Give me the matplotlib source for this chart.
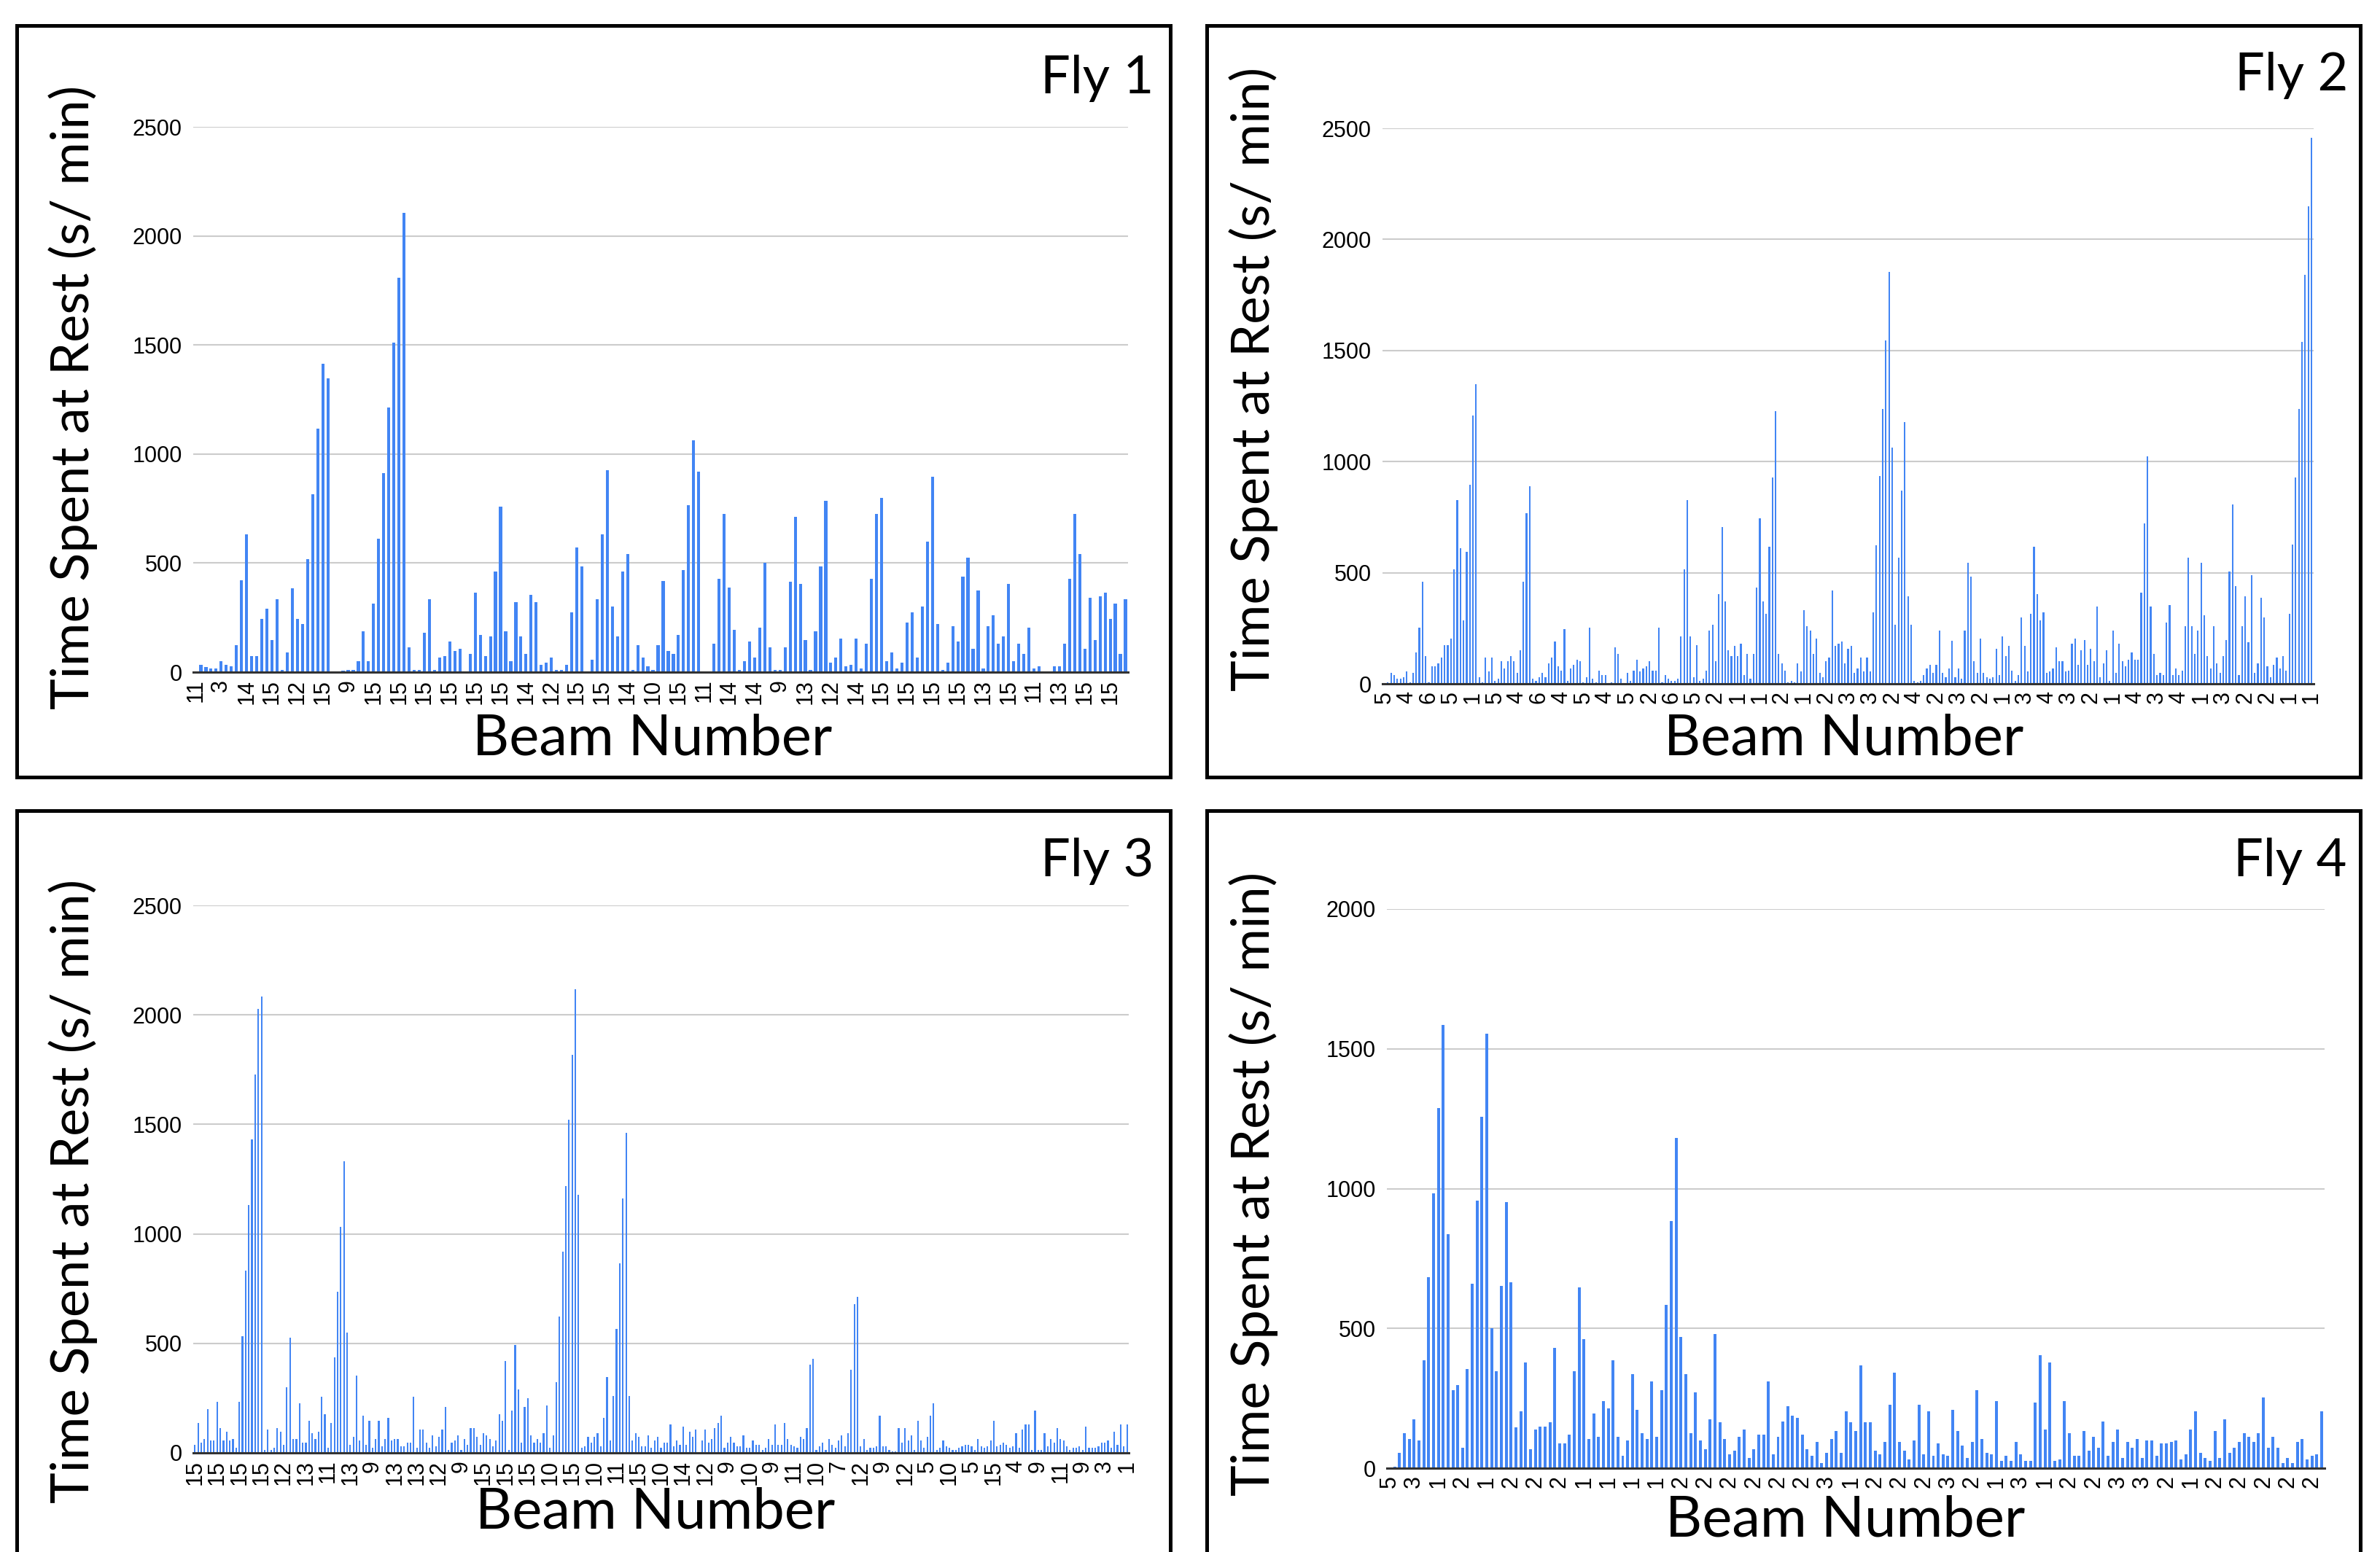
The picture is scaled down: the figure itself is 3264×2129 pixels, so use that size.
import matplotlib.pyplot as plt
import matplotlib.patches as mp
import numpy as np

# time spent at rest per bin (s/min)
fly1 = [3, 35, 24, 17, 17, 49, 35, 26, 122, 422,
        631, 73, 73, 244, 291, 148, 333, 9, 91, 383,
        244, 219, 517, 817, 1115, 1413, 1348, 3, 3, 7,
        10, 10, 50, 188, 50, 315, 613, 913, 1212, 1510,
        1808, 2106, 115, 10, 10, 179, 333, 10, 66, 73,
        139, 98, 106, 3, 82, 364, 171, 73, 164, 460,
        760, 188, 49, 322, 164, 82, 355, 322, 35, 42,
        66, 10, 10, 35, 273, 573, 486, 3, 57, 333,
        631, 927, 300, 164, 460, 540, 10, 122, 66, 26,
        10, 122, 418, 98, 82, 171, 469, 767, 1064, 920,
        3, 3, 131, 429, 726, 388, 195, 10, 50, 139,
        66, 204, 500, 115, 10, 10, 115, 413, 711, 404,
        146, 10, 188, 486, 784, 45, 66, 153, 26, 35,
        153, 17, 131, 429, 726, 798, 50, 91, 17, 42,
        228, 273, 66, 300, 598, 895, 219, 10, 42, 211,
        139, 437, 526, 106, 373, 17, 211, 260, 131, 164,
        404, 50, 131, 82, 204, 17, 26, 3, 3, 26,
        26, 131, 429, 726, 540, 106, 340, 146, 348, 364,
        244, 315, 82, 333]
fly1_labels = [11, 3, 14, 15, 12, 15, 9, 15, 15, 15, 15, 15, 15, 14, 12, 15, 15, 14, 10,
               15, 11, 14, 14, 9, 13, 12, 14, 15, 15, 15, 15, 13, 15, 11, 13, 15, 15]

fly2 = [0, 5, 48, 40, 22, 22, 31, 55, 5, 48, 141,
        253, 460, 126, 5, 78, 78, 93, 117, 174, 174,
        203, 515, 826, 610, 286, 593, 896, 1207, 1348, 31,
        5, 117, 55, 117, 14, 22, 102, 69, 102, 126,
        102, 48, 152, 460, 769, 888, 22, 14, 31, 48,
        31, 93, 117, 190, 78, 60, 245, 14, 69, 86,
        109, 102, 5, 31, 253, 22, 5, 60, 40, 40,
        2, 5, 164, 133, 22, 2, 48, 14, 60, 109,
        55, 69, 78, 102, 60, 60, 253, 5, 40, 22,
        14, 14, 22, 212, 515, 826, 212, 31, 174,
        14, 22, 60, 238, 267, 102, 403, 705, 371, 150,
        126, 172, 126, 181, 40, 133, 22, 133, 434, 745,
        371, 315, 617, 928, 1227, 133, 93, 60, 5, 14,
        5, 93, 55, 331, 260, 238, 133, 203, 48, 31,
        102, 117, 419, 172, 181, 190, 93, 157, 172, 48,
        69, 117, 55, 117, 55, 322, 624, 934, 1238, 1546,
        1855, 1062, 267, 569, 871, 1179, 393, 267, 14, 5,
        14, 40, 69, 86, 48, 86, 238, 48, 31, 69,
        195, 31, 69, 22, 238, 543, 483, 102, 48, 203,
        48, 31, 22, 31, 157, 40, 212, 126, 172,
        60, 14, 40, 300, 172, 55, 315, 617, 403, 284,
        322, 48, 55, 69, 164, 102, 102, 55, 60, 181,
        203, 86, 150, 197, 86, 157, 102, 347, 31, 93,
        150, 14, 238, 48, 181, 102, 78, 109, 141, 109,
        109, 410, 721, 1022, 347, 133, 40, 48, 40, 276,
        353, 40, 69, 40, 60, 259, 569, 259, 133, 238,
        543, 307, 126, 69, 259, 93, 48, 126, 197, 505,
        807, 441, 40, 259, 393, 188, 490, 48, 93, 386,
        300, 78, 31, 86, 117, 69, 126, 60, 315, 626,
        928, 1238, 1540, 1841, 2150, 2458]
fly2_labels = [5, 4, 6, 5, 1, 5, 4, 6, 4, 5, 4, 5, 2, 6, 5, 2, 1, 1, 2, 1, 2, 3,
               3, 2, 4, 2, 3, 2, 1, 3, 4, 3, 2, 1, 4, 3, 4, 1, 3, 2, 2, 1, 1]

fly3 = [38, 138, 47, 63, 201, 56, 56, 234, 113, 56,
        98, 56, 63, 23, 234, 534, 832, 1131, 1431, 1728,
        2026, 2084, 14, 105, 14, 23, 113, 98, 38, 300,
        525, 63, 63, 227, 47, 47, 145, 89, 63, 98,
        257, 178, 23, 138, 436, 736, 1033, 1331, 548, 38,
        72, 354, 56, 169, 38, 145, 23, 63, 145, 30,
        63, 161, 56, 63, 63, 30, 30, 47, 47, 257,
        23, 105, 105, 47, 23, 80, 30, 72, 105, 209,
        14, 47, 56, 80, 14, 63, 38, 113, 113, 72,
        38, 89, 80, 63, 30, 56, 178, 145, 419,
        14, 194, 492, 291, 47, 209, 250, 80, 47, 63,
        47, 89, 218, 23, 80, 323, 621, 920, 1218, 1520,
        1818, 2117, 1180, 23, 30, 72, 47, 72, 89, 30,
        161, 347, 56, 258, 565, 866, 1162, 1462, 258, 56,
        89, 72, 30, 30, 80, 23, 56, 72, 23, 47,
        47, 129, 30, 56, 38, 120, 38, 98, 72, 105,
        3, 56, 105, 47, 63, 113, 138, 169, 23, 47,
        72, 47, 30, 30, 80, 23, 23, 56, 38, 38,
        14, 23, 63, 38, 129, 38, 38, 138, 63, 38,
        30, 23, 72, 63, 113, 403, 428, 14, 30, 47,
        14, 63,
        38, 23, 56, 80, 30, 89, 380, 679, 712, 30,
        63, 14, 23, 23, 30, 169, 30, 30, 14, 7,
        7, 113, 47, 113, 56, 80, 14, 145, 56, 23,
        72, 169, 227, 14, 23, 56, 30, 23, 14, 14,
        23, 30, 38, 38, 30, 14, 63, 30, 23, 30,
        56, 145, 30, 38, 47, 38, 23, 30, 89, 23,
        105, 129, 129, 14, 194, 14, 14, 89, 30, 63,
        47, 113, 63, 56, 30, 14, 23, 23, 30, 14,
        120, 23, 23, 23, 30, 47, 47, 56, 23, 98,
        38, 129, 30, 129]
fly3_labels = [15, 15, 15, 15, 12, 13, 11, 13, 9, 13, 13, 12, 9, 15, 15, 15, 10, 15, 10, 11, 15, 10,
               14, 12, 9, 10, 9, 11, 10, 7, 12, 9, 12, 5, 10, 5, 15, 4, 9, 11, 9, 3, 1]

fly4 = [2, 5, 56, 125, 105, 175, 100, 385, 684, 984,
        1288, 1586, 837, 278, 296, 74, 355, 659, 958, 1258,
        1555, 501, 348, 653, 952, 666, 147, 203, 379, 68,
        137, 149, 149, 164, 430, 88, 88, 119, 348, 647,
        462, 105, 196, 112, 240, 215, 385, 112, 44, 100,
        336, 208, 125, 105, 310, 112, 278, 585, 884, 1182,
        470, 336, 125, 271, 100, 68, 175, 481, 163, 105,
        49, 62, 112, 137, 37, 68, 119, 119, 310, 49,
        112, 168, 221, 188, 181, 119, 68, 44, 93, 18,
        56, 105, 132, 56, 203, 163, 132, 367, 163, 163,
        62, 49, 93, 227, 341, 93, 62, 32, 100, 227,
        49, 203, 44, 88, 49, 44, 208, 132, 81, 37,
        93, 278, 105, 56, 49, 240, 25, 44, 25, 93,
        49, 25, 25, 234, 405, 137, 379, 25, 32, 240,
        125, 44, 44, 132, 62, 112, 74, 168, 44, 93,
        137, 37, 93, 74, 105, 37, 100, 100, 44, 88,
        88, 93, 100, 32, 49, 137, 203, 56, 37, 25,
        132, 37, 175, 56, 74, 93, 125, 112, 93, 125,
        252, 74, 112, 74, 18, 37, 18, 93, 105, 32,
        44, 49, 203]
fly4_labels = [5, 3, 1, 2, 1, 2, 2, 2, 1, 1, 1, 1, 2, 2, 2, 2, 2, 2, 3, 1, 2, 2, 2, 3, 2, 1,
               3, 1, 2, 2, 3, 3, 2, 1, 2, 2, 2, 2, 2]

titles = ['Fly 1', 'Fly 2', 'Fly 3', 'Fly 4']

W, H = 3264, 2129
BLUE = '#4285f4'
LABEL_FONT = 'Lato'
TICK_FONT = 'Liberation Sans'

fig = plt.figure(figsize=(W / 100, H / 100), dpi=100)


def rect(l, t, r, b):
    # pixel box -> figure fraction
    return [l / W, 1 - b / H, (r - l) / W, (b - t) / H]


def draw_panel(box, values, labels, step, ymax, xlim, width):
    ax = fig.add_axes(rect(*box))
    x = np.arange(len(values))
    ax.bar(x, values, width=width, color=BLUE, zorder=3)
    ax.set_xlim(*xlim)
    ax.set_ylim(0, ymax)
    ax.set_yticks(np.arange(0, ymax + 1, 500))
    ax.set_yticklabels([str(v) for v in range(0, ymax + 1, 500)], fontsize=22, family=TICK_FONT)
    ticks = np.arange(0, len(values), step)[:len(labels)]
    ax.set_xticks(ticks)
    ax.set_xticklabels([str(l) for l in labels[:len(ticks)]], rotation=90, fontsize=22, family=TICK_FONT)
    ax.yaxis.grid(True, color='#cccccc', lw=1.5, zorder=0)
    ax.set_axisbelow(True)
    for s in ['top', 'right', 'left']:
        ax.spines[s].set_visible(False)
    ax.spines['bottom'].set_color('#333333')
    ax.spines['bottom'].set_linewidth(2.2)
    ax.spines['bottom'].set_zorder(4)
    ax.tick_params(axis='both', length=0)
    ax.tick_params(axis='y', pad=11)
    ax.tick_params(axis='x', pad=7)
    return ax


draw_panel((265, 174, 1547, 922), fly1, fly1_labels, 5, 2500, (-0.5, len(fly1) - 0.5), 0.6)
draw_panel((1896, 176, 3173, 938), fly2, fly2_labels, 7, 2500, (-0.7, len(fly2) - 0.3), 0.5)
draw_panel((265, 1242, 1548, 1993), fly3, fly3_labels, 7, 2500, (-0.53, len(fly3) - 0.45), 0.5)
draw_panel((1902, 1247, 3188, 2014), fly4, fly4_labels, 5, 2000, (-0.6, len(fly4) - 0.4), 0.6)

# panel frames
frames = [(23, 35, 1605, 1066), (1655, 35, 3237, 1066),
          (23, 1112, 1605, 2140), (1655, 1112, 3237, 2140)]
for l, t, r, b in frames:
    fig.add_artist(mp.Rectangle((l / W, 1 - b / H), (r - l) / W, (b - t) / H,
                                transform=fig.transFigure, fill=False, ec='black', lw=3.6))

# titles, axis labels
title_pos = [(1582, 108), (3220, 104), (1582, 1182), (3218, 1182)]
ylabel_pos = [(100, 545), (1719, 520), (100, 1634), (1719, 1624)]
xlabel_pos = [(895, 1014), (2529, 1014), (899, 2075), (2531, 2086)]
for i in range(4):
    tx, ty = title_pos[i]
    fig.text(tx / W, 1 - ty / H, titles[i], ha='right', va='center', fontsize=52, family=LABEL_FONT)
    yx, yy = ylabel_pos[i]
    fig.text(yx / W, 1 - yy / H, 'Time Spent at Rest (s/ min)', rotation=90,
             ha='center', va='center', fontsize=52, family=LABEL_FONT)
    xx, xy = xlabel_pos[i]
    fig.text(xx / W, 1 - xy / H, 'Beam Number', ha='center', va='center', fontsize=56, family=LABEL_FONT)

fig.savefig('out.png', dpi=100)
